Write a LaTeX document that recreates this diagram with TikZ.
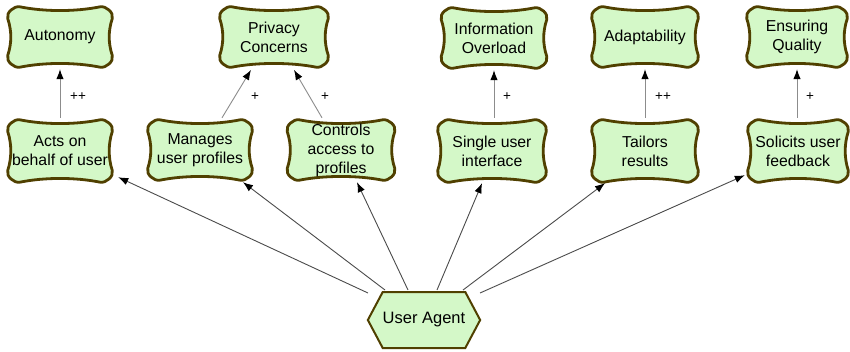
\documentclass[tikz,border=0pt]{standalone}
\usepackage{fontspec}
\setmainfont{Liberation Sans}
\usetikzlibrary{calc,shapes.symbols,arrows.meta,backgrounds}
\definecolor{sgfill}{RGB}{212,248,200}
\definecolor{sgline}{RGB}{80,64,0}
\definecolor{darkln}{RGB}{75,75,75}
\definecolor{lightln}{RGB}{140,140,140}
\begin{document}
\begin{tikzpicture}[x=1pt,y=-1pt,
  sg/.style={inner sep=0pt, align=center, font=\fontsize{15.8}{19}\selectfont, text=black},
  cloudline/.style={draw=sgline, fill=sgfill, line width=2.8pt, line join=round},
  uastyle/.style={shape=signal, signal to=east and west, signal pointer angle=124,
     draw=sgline, fill=sgfill, line width=2pt, minimum width=108pt, minimum height=56pt,
     inner sep=0pt, font=\fontsize{16.5}{19}\selectfont},
  upar/.style={draw=lightln, line width=0.9pt, -{Latex[length=10pt,width=7.5pt,color=black]}, shorten >=2pt},
  uaar/.style={draw=darkln, line width=0.9pt, -{Latex[length=10pt,width=7.5pt,color=black]}},
  lbl/.style={font=\fontsize{13.5}{15}\selectfont, inner sep=0pt}
]
\useasboundingbox (0,0) rectangle (850,351);

% top row softgoals
\node[sg,minimum width=104pt,minimum height=60pt] (auton) at (60,37) {Autonomy};
\node[sg,minimum width=108pt,minimum height=60pt] (priv) at (274,37) {Privacy\\Concerns};
\node[sg,minimum width=105pt,minimum height=60pt] (info) at (494,38) {Information\\Overload};
\node[sg,minimum width=106pt,minimum height=60pt] (adapt) at (645,37) {Adaptability};
\node[sg,minimum width=100pt,minimum height=60pt] (ensur) at (797,37) {Ensuring\\Quality};

% bottom row softgoals
\node[sg,minimum width=104pt,minimum height=62pt] (acts) at (60,151) {Acts on\\behalf of user};
\node[sg,minimum width=104pt,minimum height=60pt] (manag) at (200,150) {Manages\\user profiles};
\node[sg,minimum width=107pt,minimum height=60pt] (ctrl) at (341,150) {Controls\\access to\\profiles};
\node[sg,minimum width=108pt,minimum height=62pt] (single) at (492,151) {Single user\\interface};
\node[sg,minimum width=106pt,minimum height=62pt] (tailor) at (645,151) {Tailors\\results};
\node[sg,minimum width=100pt,minimum height=62pt] (solic) at (798,151) {Solicits user\\feedback};

% agent
\node[uastyle] (ua) at (424,320) {User Agent};

% cloud outlines
\begin{scope}[on background layer]
\fill[white] (0,0) rectangle (850,351);
\foreach \n in {auton,priv,info,adapt,ensur,acts,manag,ctrl,single,tailor,solic}{
  \draw[cloudline]
    ($(\n.north west)+(12,0)$)
    .. controls ($(\n.north west)+(37,5)$) and ($(\n.north east)+(-37,5)$) .. ($(\n.north east)+(-12,0)$)
    .. controls ($(\n.north east)+(-6,-1)$) and ($(\n.north east)+(2,6)$) .. ($(\n.north east)+(0,12)$)
    .. controls ($(\n.north east)+(-4,24)$) and ($(\n.south east)+(-4,-24)$) .. ($(\n.south east)+(0,-12)$)
    .. controls ($(\n.south east)+(2,-6)$) and ($(\n.south east)+(-6,1)$) .. ($(\n.south east)+(-12,0)$)
    .. controls ($(\n.south east)+(-37,-5)$) and ($(\n.south west)+(37,-5)$) .. ($(\n.south west)+(12,0)$)
    .. controls ($(\n.south west)+(6,1)$) and ($(\n.south west)+(-2,-6)$) .. ($(\n.south west)+(0,-12)$)
    .. controls ($(\n.south west)+(4,-24)$) and ($(\n.north west)+(4,24)$) .. ($(\n.north west)+(0,12)$)
    .. controls ($(\n.north west)+(-2,6)$) and ($(\n.north west)+(6,-1)$) .. cycle;
}
\end{scope}

% contribution links
\draw[upar] ($(acts.north)+(0,-2)$) -- (auton.south);
\draw[upar] ($(manag.north)+(22,-2)$) -- ($(priv.south)+(-22,1)$);
\draw[upar] ($(ctrl.north)+(-19,-2)$) -- ($(priv.south)+(19,1)$);
\draw[upar] ($(info.south |- single.north)+(0,-2)$) -- (info.south);
\draw[upar] ($(tailor.north)+(0,-2)$) -- (adapt.south);
\draw[upar] ($(ensur.south |- solic.north)+(0,-2)$) -- (ensur.south);

\node[lbl] (l1) at (78,97) {++};
\node[lbl] (l2) at (255,97) {+};
\node[lbl] (l3) at (325,97) {+};
\node[lbl] (l4) at (507,97) {+};
\node[lbl] (l5) at (663,97) {++};
\node[lbl] (l6) at (810,97) {+};

% agent links
\draw[uaar] ($(ua.north)+(-56,2)$) -- ($(acts.south east)+(6,-5)$);
\draw[uaar] ($(ua.north)+(-39,-1)$) -- ($(manag.south)+(43,2)$);
\draw[uaar] ($(ua.north)+(-16,-1)$) -- ($(ctrl.south)+(16,2)$);
\draw[uaar] ($(ua.north)+(13,-1)$) -- ($(single.south)+(-10,1)$);
\draw[uaar] ($(ua.north)+(39,-1)$) -- ($(tailor.south)+(-40,1)$);
\draw[uaar] ($(ua.north)+(56,2)$) -- ($(solic.south west)+(-3,-7)$);
\end{tikzpicture}
\end{document}
